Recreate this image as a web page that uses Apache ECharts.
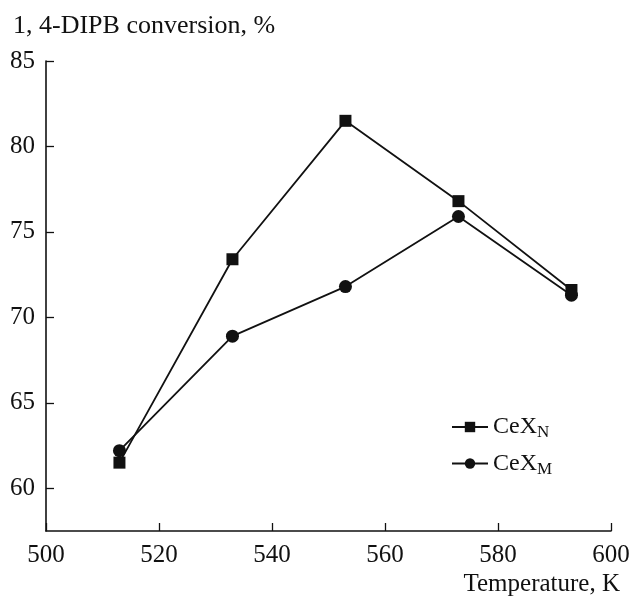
<!DOCTYPE html>
<html>
<head>
<meta charset="utf-8">
<script src="https://cdn.jsdelivr.net/npm/echarts@6/dist/echarts.min.js"></script>
<style>
  html, body { margin: 0; padding: 0; background: #fff; }
  #chart { width: 635px; height: 597px; }
</style>
</head>
<body>
<div id="chart"></div>
<script>
var temps = [513, 533, 553, 573, 593];
var cexN = [61.5, 73.4, 81.5, 76.8, 71.6];
var cexM = [62.2, 68.9, 71.8, 75.9, 71.3];
var yTicks = [60, 65, 70, 75, 80, 85];
var xTicks = [500, 520, 540, 560, 580, 600];

var font = 'Liberation Serif';
var ink = '#111';

function pairs(ys) {
    return temps.map(function(t, i) { return [t, ys[i]]; });
}

var option = {
    backgroundColor: '#fff',
    animation: false,
    textStyle: { fontFamily: font, color: ink },
    title: [{
        text: '1, 4-DIPB conversion, %',
        left: 8,
        top: 8,
        textStyle: { fontFamily: font, fontSize: 26, fontWeight: 'normal', color: ink }
    }, {
        text: 'Temperature, K',
        right: 10,
        top: 567,
        textStyle: { fontFamily: font, fontSize: 25, fontWeight: 'normal', color: ink }
    }],
    grid: { left: 46, right: 24, top: 61, bottom: 66, containLabel: false },
    legend: {
        left: 446,
        top: 410,
        orient: 'vertical',
        itemGap: 10,
        itemWidth: 36,
        itemHeight: 13,
        data: ['CeXN', 'CeXM'],
        formatter: function(name) {
            return '{a|CeX}{s|' + name.slice(3) + '}';
        },
        textStyle: {
            rich: {
                a: { fontFamily: font, fontSize: 24, color: ink },
                s: { fontFamily: font, fontSize: 17, color: ink, padding: [12, 0, 0, 0] }
            }
        }
    },
    xAxis: {
        type: 'value',
        min: 500,
        max: 600,
        interval: 20,
        axisLine: { lineStyle: { color: ink, width: 1.6 } },
        axisTick: { inside: true, length: 8, lineStyle: { color: ink, width: 1.3 } },
        axisLabel: { fontFamily: font, fontSize: 25, color: ink, margin: 12, customValues: xTicks },
        splitLine: { show: false }
    },
    yAxis: {
        type: 'value',
        min: 57.5,
        max: 85,
        axisLine: { lineStyle: { color: ink, width: 1.6 } },
        axisTick: { inside: true, length: 8, lineStyle: { color: ink, width: 1.3 }, customValues: yTicks },
        axisLabel: { fontFamily: font, fontSize: 25, color: ink, margin: 11, customValues: yTicks },
        splitLine: { show: false }
    },
    series: [{
        name: 'CeXN',
        type: 'line',
        data: pairs(cexN),
        symbol: 'rect',
        symbolSize: 12,
        lineStyle: { color: ink, width: 1.8 },
        itemStyle: { color: ink }
    }, {
        name: 'CeXM',
        type: 'line',
        data: pairs(cexM),
        symbol: 'circle',
        symbolSize: 13,
        lineStyle: { color: ink, width: 1.8 },
        itemStyle: { color: ink }
    }]
};

var myChart = echarts.init(document.getElementById('chart'));
myChart.setOption(option);
</script>
</body>
</html>
